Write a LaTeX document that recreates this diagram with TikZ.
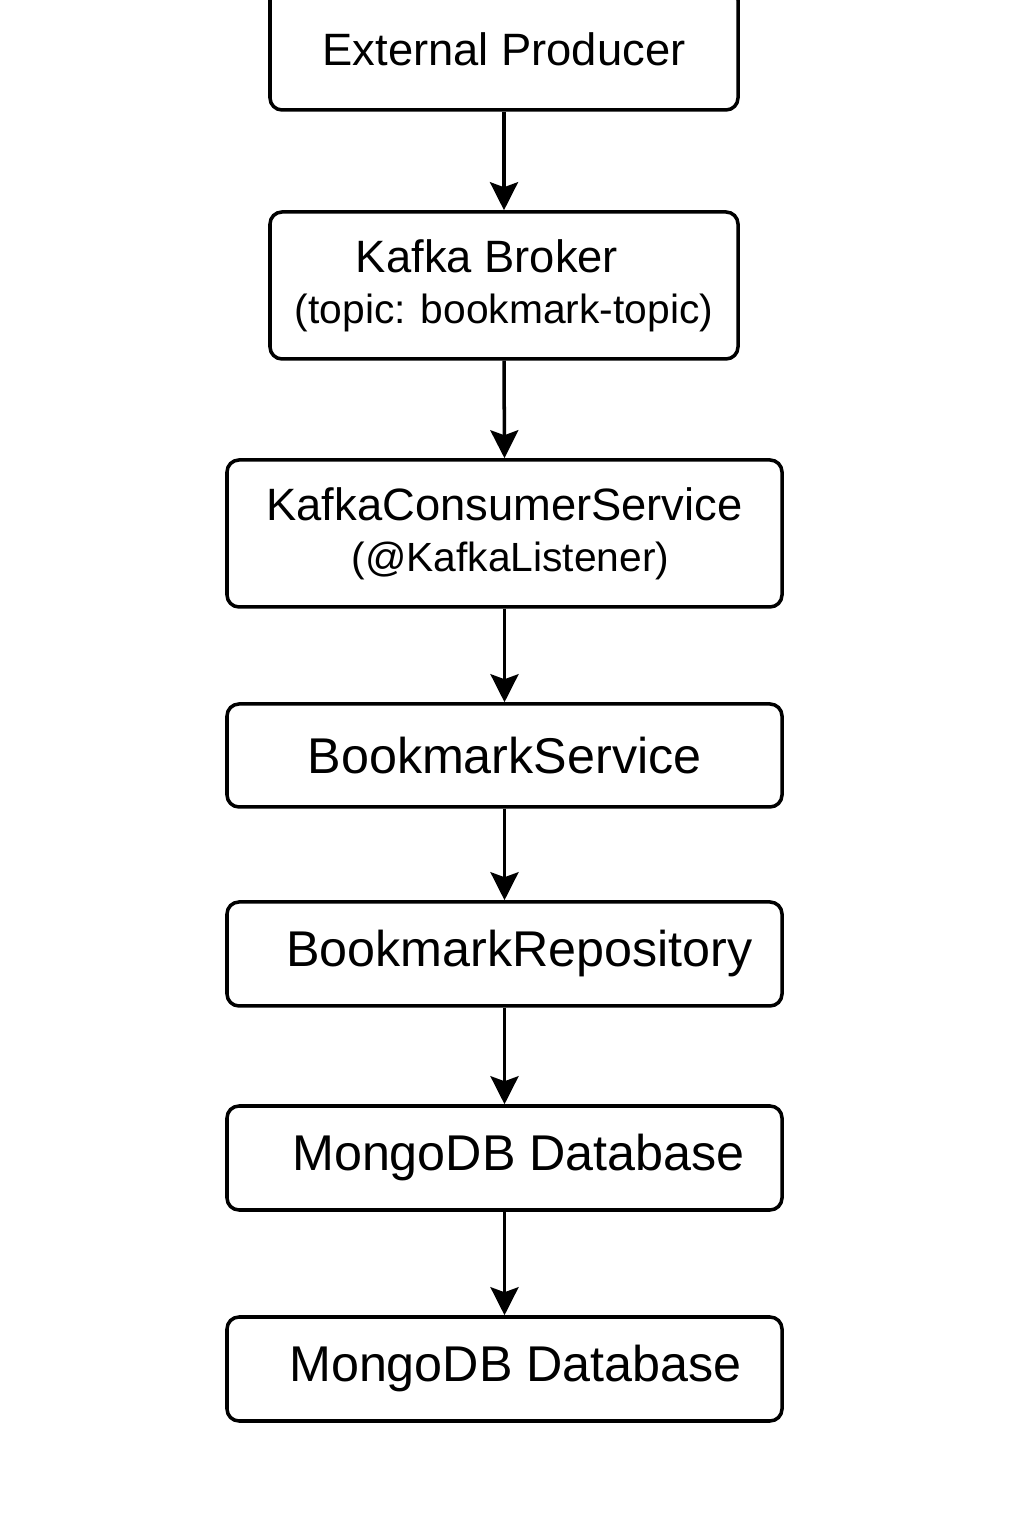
\documentclass[tikz,border=0pt]{standalone}
\usepackage{fontspec}
\setmainfont{Liberation Sans}
\usetikzlibrary{arrows.meta}
\tikzset{
  box/.style={draw, line width=1pt, rounded corners=1.2mm, inner sep=0pt, align=center},
  flow/.style={-{Stealth[length=2.8mm,width=2.8mm,inset=0.5mm]}, line width=1pt}
}
\newcommand{\bigtxt}{\fontsize{14.3}{17}\selectfont}
\newcommand{\midtxt}{\fontsize{12.9}{14.7}\selectfont}
\newcommand{\smalltxt}{\fontsize{11.6}{14.7}\selectfont}
\begin{document}
\begin{tikzpicture}
            \useasboundingbox (0,0) rectangle (10.24,15.36);
            \clip (0,0) rectangle (10.24,15.36);
            \fill[white] (0,0) rectangle (10.24,15.36);
            \node[box, minimum width=4.68cm, minimum height=1.22cm] (producer) at (5.04,14.87) {\midtxt External Producer};
            \node[box, minimum width=4.68cm, minimum height=1.47cm] (broker) at (5.04,12.505) {\midtxt\hspace*{-3.4mm}Kafka Broker\\[0.9mm] \smalltxt (topic: bookmark-topic)};
            \node[box, minimum width=5.55cm, minimum height=1.47cm] (consumer) at (5.045,10.025) {\midtxt KafkaConsumerService\\[0.9mm] \smalltxt\hspace*{1.2mm}(@KafkaListener)};
            \node[box, minimum width=5.55cm, minimum height=1.03cm] (service) at (5.045,7.805) {\bigtxt BookmarkService};
            \node[box, minimum width=5.55cm, minimum height=1.04cm] (repo) at (5.045,5.82) {\bigtxt\hspace*{3mm}BookmarkRepository};
            \node[box, minimum width=5.55cm, minimum height=1.04cm] (mongoa) at (5.045,3.78) {\bigtxt\hspace*{2.8mm}MongoDB Database};
            \node[box, minimum width=5.55cm, minimum height=1.04cm] (mongob) at (5.045,1.67) {\bigtxt\hspace*{2.2mm}MongoDB Database};
            \draw [flow] (producer.south) -- (broker.north);
            \draw [flow] (broker.south) -- (consumer.north);
            \draw [flow] (consumer.south) -- (service.north);
            \draw [flow] (service.south) -- (repo.north);
            \draw [flow] (repo.south) -- (mongoa.north);
            \draw [flow] (mongoa.south) -- (mongob.north);
        \end{tikzpicture}
\end{document}
